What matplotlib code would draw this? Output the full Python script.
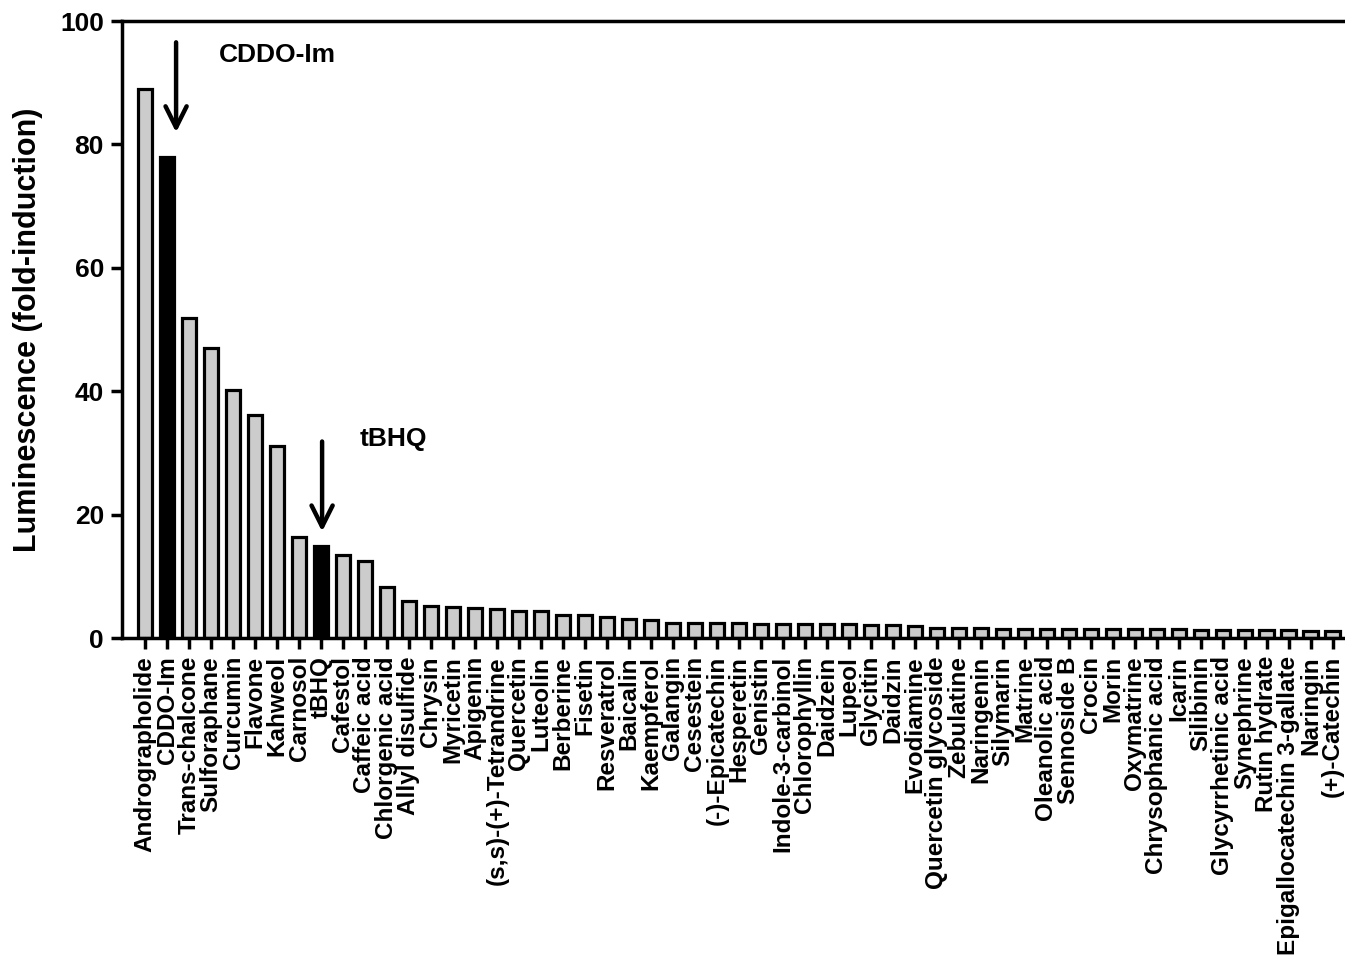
import matplotlib.pyplot as plt

plt.rcParams['font.family'] = ['Liberation Sans', 'DejaVu Sans']
plt.rcParams['font.weight'] = 'bold'

compounds = ['Andrographolide', 'CDDO-Im', 'Trans-chalcone', 'Sulforaphane', 'Curcumin',
             'Flavone', 'Kahweol', 'Carnosol', 'tBHQ', 'Cafestol', 'Caffeic acid',
             'Chlorgenic acid', 'Allyl disulfide', 'Chrysin', 'Myricetin', 'Apigenin',
             '(s,s)-(+)-Tetrandrine', 'Quercetin', 'Luteolin', 'Berberine', 'Fisetin',
             'Resveratrol', 'Baicalin', 'Kaempferol', 'Galangin', 'Cesestein',
             '(-)-Epicatechin', 'Hesperetin', 'Genistin', 'Indole-3-carbinol',
             'Chlorophyllin', 'Daidzein', 'Lupeol', 'Glycitin', 'Daidzin', 'Evodiamine',
             'Quercetin glycoside', 'Zebulatine', 'Naringenin', 'Silymarin', 'Matrine',
             'Oleanolic acid', 'Sennoside B', 'Crocin', 'Morin', 'Oxymatrine',
             'Chrysophanic acid', 'Icarin', 'Silibinin', 'Glycyrrhetinic acid',
             'Synephrine', 'Rutin hydrate', 'Epigallocatechin 3-gallate', 'Naringin',
             '(+)-Catechin']

fold_induction = [89.0, 78.0, 51.9, 47.0, 40.2, 36.1, 31.1, 16.4, 14.9, 13.5, 12.5,
                  8.2, 6.0, 5.2, 5.1, 4.9, 4.65, 4.45, 4.3, 3.75, 3.7, 3.4, 3.1, 2.85,
                  2.5, 2.45, 2.45, 2.4, 2.3, 2.3, 2.3, 2.2, 2.2, 2.15, 2.1, 1.9, 1.7,
                  1.6, 1.55, 1.5, 1.5, 1.45, 1.45, 1.45, 1.4, 1.4, 1.4, 1.4, 1.35, 1.35,
                  1.3, 1.3, 1.25, 1.2, 1.1]

highlight = ['CDDO-Im', 'tBHQ']

colors = ['black' if c in highlight else '#cccccc' for c in compounds]

fig = plt.figure(figsize=(13.45, 9.6), dpi=100)
ax = fig.add_axes([0.0907, 0.3354, 0.909, 0.6427])

x = range(len(compounds))
ax.bar(x, fold_induction, width=0.64, color=colors, edgecolor='black', linewidth=2.3)

ax.set_xlim(-1.05, len(compounds) - 0.45)
ax.set_ylim(0, 100)
ax.set_yticks([0, 20, 40, 60, 80, 100])
ax.set_xticks(list(x))
ax.set_xticklabels(compounds, rotation=90, fontsize=17.5, fontweight='bold')
ax.tick_params(axis='y', labelsize=19, width=2.5, length=8, direction='out', pad=5)
ax.tick_params(axis='x', width=2.5, length=8, direction='out', pad=5)
for t in ax.get_yticklabels():
    t.set_fontweight('bold')

ax.set_ylabel('Luminescence (fold-induction)', fontsize=22, fontweight='bold', labelpad=12)

for side in ['left', 'bottom', 'top']:
    ax.spines[side].set_linewidth(2.5)
ax.spines['right'].set_visible(False)

# arrows pointing at the reference compounds
arrow = dict(arrowstyle='->', lw=3.2, color='black', mutation_scale=38)
ax.annotate('', xy=(1.41, 81.5), xytext=(1.41, 97), arrowprops=arrow)
ax.text(3.36, 94.5, 'CDDO-Im', fontsize=19, fontweight='bold', va='center', ha='left')
ax.annotate('', xy=(8.05, 16.8), xytext=(8.05, 32.3), arrowprops=arrow)
ax.text(9.77, 32.2, 'tBHQ', fontsize=19, fontweight='bold', va='center', ha='left')

fig.savefig('out.png', dpi=100)
